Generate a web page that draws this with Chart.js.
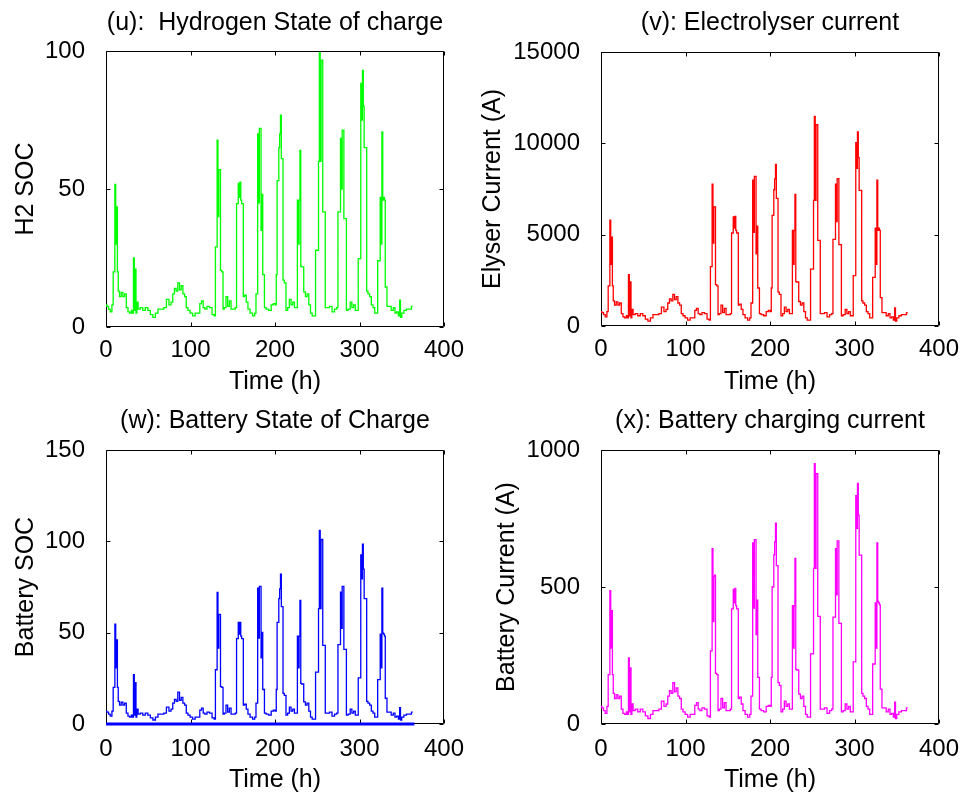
<!DOCTYPE html>
<html>
<head>
<meta charset="utf-8">
<script src="https://cdn.jsdelivr.net/npm/chart.js@4.4.1/dist/chart.umd.min.js"></script>
<style>
  html, body { margin: 0; padding: 0; background: #fff; overflow: hidden; }
  canvas { position: absolute; }
</style>
</head>
<body>
<canvas id="c1" width="484" height="400" style="left:0;top:0"></canvas>
<canvas id="c2" width="497" height="400" style="left:470px;top:0"></canvas>
<canvas id="c3" width="484" height="401" style="left:0;top:400px"></canvas>
<canvas id="c4" width="497" height="401" style="left:470px;top:400px"></canvas>
<script>
// time axis (h), shared by all four traces
const hours = [
  0, 2, 4, 6, 8, 9, 10, 11, 12, 13,
  14, 15, 17, 19, 21, 23, 25, 27, 29, 31,
  32, 33, 34, 35, 36, 37, 39, 42, 45, 48,
  51, 54, 57, 60, 63, 67, 70, 73, 76, 78,
  80, 82, 84, 86, 88, 90, 92, 94, 96, 98,
  101, 104, 107, 110, 112, 114, 116, 118, 121, 124,
  127, 129, 130, 131, 132, 133, 134, 135, 136, 138,
  139, 141, 143, 145, 147, 149, 152, 154, 155, 156,
  157, 158, 159, 160, 161, 162, 163, 165, 167, 169,
  172, 175, 177, 178, 179, 180, 181, 182, 183, 184,
  185, 186, 187, 188, 191, 194, 197, 199, 201, 202,
  203, 204, 205, 206, 207, 208, 209, 210, 212, 214,
  216, 218, 220, 222, 224, 226, 227, 228, 229, 230,
  231, 232, 233, 235, 237, 239, 241, 243, 245, 247,
  249, 251, 252, 253, 254, 255, 256, 257, 259, 260,
  263, 266, 269, 272, 274, 275, 277, 278, 279, 280,
  281, 282, 284, 285, 288, 290, 292, 294, 296, 298,
  299, 301, 302, 303, 304, 305, 306, 308, 309, 311,
  313, 315, 317, 319, 321, 322, 324, 325, 326, 327,
  328, 329, 330, 331, 332, 333, 336, 339, 341, 343,
  345, 347, 348, 349, 351, 354, 357, 360, 363
];

// (u) hydrogen state of charge
const h2Soc = [
  8, 7.5, 6.5, 5.5, 8, 20, 20, 51.7, 30, 43.5,
  20, 13, 11, 12.5, 11, 12, 7, 5.5, 5, 6,
  5, 25, 6, 21, 5, 9, 6.5, 7, 6, 7,
  6, 4.5, 3.5, 5, 6.5, 6.5, 7, 10, 8, 9,
  12, 14, 13, 16, 13.5, 15, 12, 11, 7, 6,
  5, 4, 5, 5, 8.5, 9.5, 7, 6.5, 7.5, 7,
  4.5, 4, 29, 29, 67.7, 40, 57, 57, 20.5, 20,
  6.5, 7, 11, 7.5, 9.5, 6.5, 6.5, 7, 44.7, 44.7,
  52, 47, 52.5, 46, 44.7, 44.7, 11, 11.5, 9, 6.5,
  5, 4, 5, 12, 12, 70, 45, 72, 72, 35,
  48, 19, 19, 7, 6.5, 6, 8, 8.5, 8, 19,
  53, 53, 65, 70, 76.8, 61, 61, 17, 16, 6,
  7, 10, 8, 9, 7, 7, 46, 30, 46, 64,
  22, 21.8, 21.8, 12.7, 11, 12, 8, 5, 4, 4,
  27.8, 27.8, 60, 99.4, 60, 96.7, 96.7, 41.7, 41.7, 7,
  7, 7.5, 5.5, 6.5, 7, 41.7, 41.7, 68.3, 50, 71.3,
  71.3, 39.3, 39.3, 6, 6.5, 9, 7, 8, 6, 6,
  24.8, 24.8, 88.3, 75, 93, 80, 65, 65, 13, 12,
  11, 8, 7, 5, 5, 24, 24, 47, 30, 70.7,
  46, 47, 46, 14.5, 14.5, 7.5, 7.5, 6, 7, 5,
  5.5, 4, 9.7, 3.5, 5, 6, 6.5, 6.5, 7.5
];

// (v) electrolyser current (A)
const elyserCurrent = [
  790, 730, 620, 500, 790, 2200, 2200, 5790, 3370, 4870,
  2200, 1380, 1140, 1320, 1140, 1260, 680, 500, 440, 560,
  440, 2810, 560, 2410, 440, 910, 620, 680, 560, 680,
  560, 380, 270, 440, 620, 620, 680, 1030, 790, 910,
  1260, 1490, 1380, 1730, 1440, 1610, 1260, 1140, 680, 560,
  440, 320, 440, 440, 850, 970, 680, 620, 730, 680,
  380, 320, 3250, 3250, 7760, 4540, 6520, 6520, 2260, 2200,
  620, 680, 1140, 730, 970, 620, 620, 680, 5090, 5090,
  5970, 5360, 6000, 5240, 5090, 5090, 1140, 1200, 910, 620,
  440, 320, 440, 1260, 1260, 7980, 5120, 8190, 8190, 3950,
  5470, 2080, 2080, 680, 620, 560, 790, 850, 790, 2080,
  6060, 6060, 7460, 8050, 8840, 6990, 6990, 1850, 1730, 560,
  680, 1030, 790, 910, 680, 680, 5240, 3370, 5240, 7210,
  2430, 2410, 2410, 1340, 1140, 1260, 790, 440, 320, 320,
  3110, 3110, 6880, 11480, 6880, 11020, 11020, 4690, 4690, 680,
  680, 730, 500, 620, 680, 4740, 4740, 7760, 5710, 8070,
  8070, 4450, 4450, 560, 620, 910, 680, 790, 560, 560,
  2760, 2760, 10040, 8630, 10620, 9220, 7430, 7430, 1380, 1260,
  1140, 790, 680, 440, 440, 2660, 2660, 5360, 3370, 7980,
  5240, 5360, 5240, 1550, 1550, 730, 730, 560, 680, 440,
  500, 320, 990, 270, 440, 560, 620, 620, 730
];

// (w) battery state of charge
const batterySoc = [
  7.0, 6.5, 5.4, 4.3, 7.0, 20.0, 20.0, 54.7, 30.8, 46,
  20.0, 12.4, 10.3, 11.9, 10.3, 11.4, 6.0, 4.3, 3.8, 4.9,
  3.8, 27, 4.9, 22.6, 3.8, 8.1, 5.4, 6.0, 4.9, 6.0,
  4.9, 3.3, 2.2, 3.8, 5.4, 5.4, 6.0, 9.2, 7.0, 8.1,
  11.4, 13.5, 12.4, 17.5, 13.0, 14.6, 11.4, 10.3, 6.0, 4.9,
  3.8, 2.7, 3.8, 3.8, 7.6, 8.7, 6.0, 5.4, 6.5, 6.0,
  3.3, 2.7, 29.7, 29.7, 72, 41.6, 60.0, 60.0, 20.5, 20.0,
  5.4, 6.0, 10.3, 6.5, 8.7, 5.4, 5.4, 6.0, 46.7, 46.7,
  55.6, 49.2, 55.6, 48.1, 46.7, 46.7, 10.3, 10.8, 8.1, 5.4,
  3.8, 2.7, 3.8, 11.4, 11.4, 74.4, 47.0, 75.3, 75.3, 36.2,
  50.2, 18.9, 18.9, 6.0, 5.4, 4.9, 7.0, 7.6, 7.0, 18.9,
  55.6, 55.6, 68.6, 74.0, 82, 64.3, 64.3, 16.8, 15.7, 4.9,
  6.0, 9.2, 7.0, 8.1, 6.0, 6.0, 48.1, 30.8, 48.1, 67.6,
  22.2, 21.9, 21.9, 12.1, 10.3, 11.4, 7.0, 3.8, 2.7, 2.7,
  28.4, 28.4, 63.2, 106, 63.2, 101, 101, 43, 43, 6.0,
  6.0, 6.5, 4.3, 5.4, 6.0, 43.4, 43.4, 72.2, 52.4, 75.3,
  75.3, 40.8, 40.8, 4.9, 5.4, 8.1, 6.0, 7.0, 4.9, 4.9,
  25.2, 25.2, 92.6, 79.4, 98.4, 84.8, 68.6, 68.6, 12.4, 11.4,
  10.3, 7.0, 6.0, 3.8, 3.8, 24.3, 24.3, 49.2, 30.8, 74.4,
  49.8, 49.2, 48.1, 14.1, 14.1, 6.5, 6.5, 4.9, 6.0, 3.8,
  4.3, 2.7, 8.9, 2.2, 3.8, 4.9, 5.4, 5.4, 6.5
];
// flat trace lying on the zero line of panel (w)
const floorHours = [0, 365];
const batteryFloor = [0, 0];

// (x) battery charging current (A)
const batteryCurrent = [
  64, 59, 49, 39, 64, 180, 180, 487, 277, 414,
  180, 112, 93, 107, 93, 102, 54, 39, 35, 44,
  35, 241, 44, 205, 35, 73, 49, 54, 44, 54,
  44, 30, 20, 35, 49, 49, 54, 83, 64, 73,
  102, 122, 112, 151, 117, 132, 102, 93, 54, 44,
  35, 25, 35, 35, 68, 78, 54, 49, 59, 54,
  30, 25, 267, 267, 640, 374, 539, 543, 185, 180,
  49, 54, 93, 59, 78, 49, 49, 54, 420, 420,
  491, 442, 495, 432, 420, 420, 93, 98, 73, 49,
  35, 25, 35, 102, 102, 661, 423, 673, 673, 326,
  452, 170, 170, 54, 49, 44, 64, 68, 64, 170,
  500, 500, 617, 665, 733, 578, 578, 151, 141, 44,
  54, 83, 64, 73, 54, 54, 432, 277, 432, 604,
  199, 197, 197, 109, 93, 102, 64, 35, 25, 25,
  256, 256, 568, 950, 568, 914, 914, 393, 393, 54,
  54, 59, 39, 49, 54, 390, 390, 640, 471, 668,
  668, 367, 367, 44, 49, 73, 54, 64, 44, 44,
  227, 227, 833, 714, 878, 762, 616, 616, 112, 102,
  93, 64, 54, 35, 35, 219, 219, 442, 277, 661,
  447, 442, 435, 127, 127, 59, 59, 44, 54, 35,
  39, 25, 80, 20, 35, 44, 49, 49, 59
];

const xTicks = [0, 100, 200, 300, 400];

Chart.defaults.color = '#000';
Chart.defaults.font.family = "'Liberation Sans', Arial, sans-serif";
Chart.defaults.font.size = 24;

function points(xs, ys) {
  return xs.map((x, i) => ({ x: x, y: ys[i] }));
}

// matlab style box with inward tick marks
const boxPlugin = {
  id: 'box',
  beforeDatasetsDraw(chart) {
    const ctx = chart.ctx;
    const a = chart.chartArea;
    const l = Math.round(a.left) + 0.5, r = Math.round(a.right) - 0.5;
    const t = Math.round(a.top) + 0.5, b = Math.round(a.bottom) - 0.5;
    ctx.save();
    ctx.strokeStyle = '#000';
    ctx.lineWidth = 1;
    ctx.beginPath();
    ctx.rect(l, t, r - l, b - t);
    chart.scales.x.ticks.forEach(tk => {
      const px = Math.round(chart.scales.x.getPixelForValue(tk.value)) + 0.5;
      ctx.moveTo(px, b); ctx.lineTo(px, b - 4);
      ctx.moveTo(px, t); ctx.lineTo(px, t + 4);
    });
    chart.scales.y.ticks.forEach(tk => {
      const py = Math.round(chart.scales.y.getPixelForValue(tk.value)) + 0.5;
      ctx.moveTo(l, py); ctx.lineTo(l + 4, py);
      ctx.moveTo(r, py); ctx.lineTo(r - 4, py);
    });
    ctx.stroke();
    ctx.restore();
  }
};

function makeChart(id, datasets, opt) {
  const ctx = document.getElementById(id).getContext('2d');
  return new Chart(ctx, {
    type: 'line',
    data: { datasets: datasets },
    options: {
      responsive: false,
      devicePixelRatio: 1,
      animation: false,
      layout: { padding: { left: 0, right: opt.padRight, top: 0, bottom: 0 } },
      elements: { point: { radius: 0 }, line: { tension: 0, borderWidth: 1.3, stepped: 'middle' } },
      plugins: {
        legend: { display: false },
        tooltip: { enabled: false },
        title: {
          display: true,
          fullSize: false,
          text: opt.title,
          font: { size: 25, weight: 'normal' },
          padding: { top: opt.titleTop, bottom: opt.titleBottom }
        }
      },
      scales: {
        x: {
          type: 'linear',
          min: 0, max: 400,
          afterBuildTicks: s => { s.ticks = xTicks.map(v => ({ value: v })); },
          afterFit: s => { s.height = opt.xHeight; },
          grid: { display: false },
          border: { display: false },
          ticks: { padding: opt.xTickPad, maxRotation: 0, callback: v => String(v) },
          title: { display: true, text: 'Time (h)', font: { size: 25 }, padding: { top: 0, bottom: opt.xTitlePad } }
        },
        y: {
          min: 0, max: opt.yMax,
          afterFit: s => { s.width = opt.yWidth; },
          grid: { display: false },
          border: { display: false },
          ticks: { stepSize: opt.yStep, padding: 13, callback: v => String(v) },
          title: { display: true, text: opt.yLabel, font: { size: 25 }, padding: { top: opt.yTitlePad, bottom: 0 } }
        }
      }
    },
    plugins: [boxPlugin]
  });
}

makeChart('c1', [
  { data: points(hours, h2Soc), borderColor: '#00ff00' }
], {
  title: '(u):  Hydrogen State of charge', yLabel: 'H2 SOC', yMax: 100, yStep: 50,
  padRight: 40, titleTop: 8, titleBottom: 13, xHeight: 73, xTitlePad: 3,
  xTickPad: 1, yWidth: 106, yTitlePad: 11
});

makeChart('c2', [
  { data: points(hours, elyserCurrent), borderColor: '#ff0000' }
], {
  title: '(v): Electrolyser current', yLabel: 'Elyser Current (A)', yMax: 15000, yStep: 5000,
  padRight: 28, titleTop: 8, titleBottom: 14, xHeight: 74, xTitlePad: 3,
  xTickPad: 1, yWidth: 131, yTitlePad: 8
});

makeChart('c3', [
  { data: points(hours, batterySoc), borderColor: '#0000ff' },
  { data: points(floorHours, batteryFloor), borderColor: '#0000ff', borderWidth: 3, stepped: false, clip: false }
], {
  title: '(w): Battery State of Charge', yLabel: 'Battery SOC', yMax: 150, yStep: 50,
  padRight: 40, titleTop: 6, titleBottom: 14, xHeight: 77, xTitlePad: 6,
  xTickPad: 3, yWidth: 106, yTitlePad: 11
});

makeChart('c4', [
  { data: points(hours, batteryCurrent), borderColor: '#ff00ff' }
], {
  title: '(x): Battery charging current', yLabel: 'Battery Current (A)', yMax: 1000, yStep: 500,
  padRight: 28, titleTop: 6, titleBottom: 14, xHeight: 77, xTitlePad: 6,
  xTickPad: 3, yWidth: 131, yTitlePad: 22
});
</script>
</body>
</html>
